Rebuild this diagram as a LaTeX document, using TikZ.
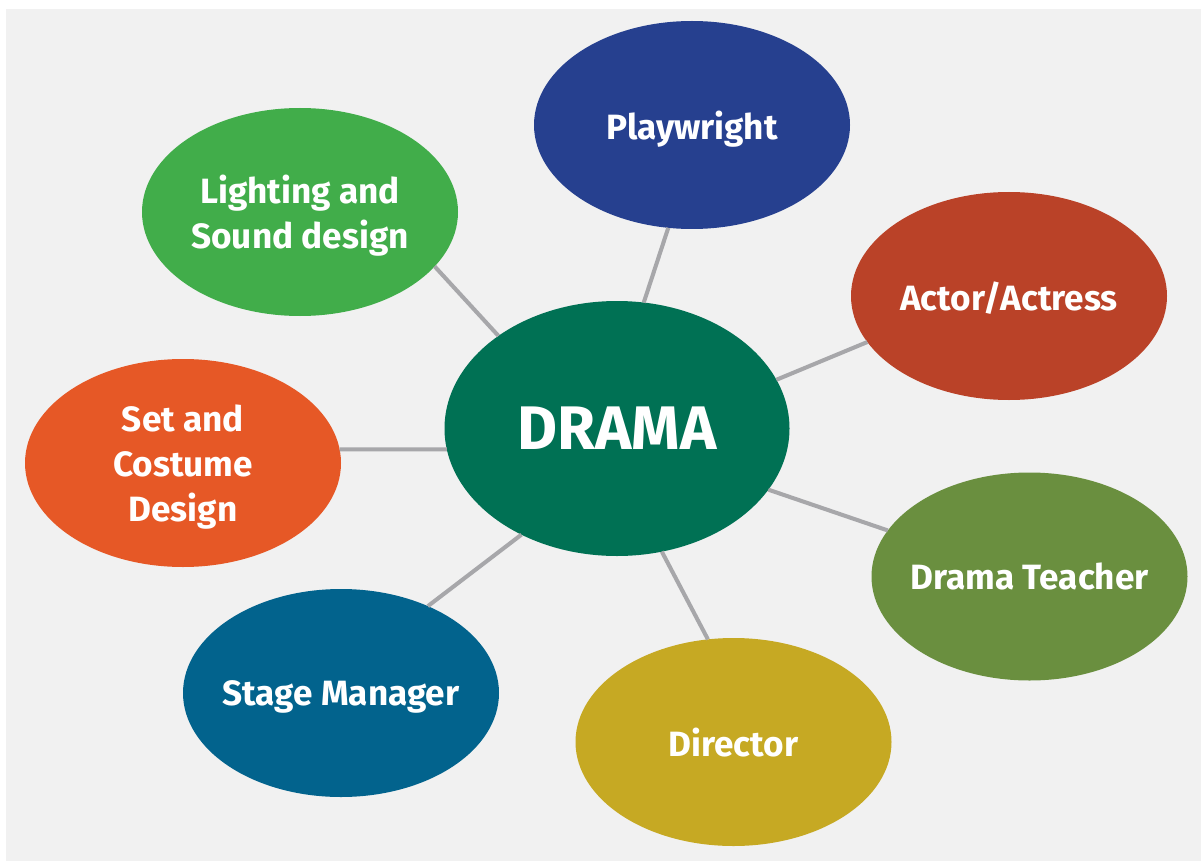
\documentclass[tikz,border=0pt]{standalone}
\usepackage{fontspec}
\setmainfont{Fira Sans}
\usetikzlibrary{shapes.geometric}

\definecolor{bggray}{HTML}{F1F1F1}
\definecolor{linkgray}{HTML}{A7A7AA}
\definecolor{dramagreen}{HTML}{007154}
\definecolor{playblue}{HTML}{26408F}
\definecolor{actorred}{HTML}{BA4228}
\definecolor{teachergreen}{HTML}{6A8F3F}
\definecolor{directorgold}{HTML}{C6A923}
\definecolor{stageblue}{HTML}{02638D}
\definecolor{setorange}{HTML}{E65826}
\definecolor{lightgreen}{HTML}{41AD4A}

\begin{document}
\begin{tikzpicture}[
        role/.style={ellipse, minimum width=6.32cm, minimum height=4.16cm, inner xsep=-0.7cm, inner ysep=0pt,
            outer sep=0pt, text depth=0pt, text=white, align=center, font=\fontsize{20}{25.5}\selectfont\bfseries},
        link/.style={draw=linkgray, line width=2.3pt}
    ]
        \fill[white] (0, 0) rectangle (24.02, 17.22);
        \fill[bggray] (0.12, 0) rectangle (24.02, 17.04);

        \node[role, fill=dramagreen, minimum width=6.9cm, minimum height=5.1cm,
            font=\fontsize{35}{40}\selectfont\bfseries] (drama) at (12.34, 8.65) {DRAMA};
        \node[role, fill=playblue] (play) at (13.84, 14.72) {Playwright};
        \node[role, fill=actorred] (actor) at (20.18, 11.30) {Actor/Actress};
        \node[role, fill=teachergreen] (teacher) at (20.59, 5.69) {Drama Teacher};
        \node[role, fill=directorgold] (director) at (14.67, 2.38) {Director};
        \node[role, fill=stageblue] (stage) at (6.82, 3.36) {Stage Manager};
        \node[role, fill=setorange] (set) at (3.66, 7.96) {Set and\\Costume\\Design};
        \node[role, fill=lightgreen] (light) at (6.0, 12.98) {Lighting and\\Sound design};

        \draw[link] (drama.78) -- (play.257);
        \draw[link] (drama.17.6) -- (actor.198);
        \draw[link] (drama.338.7) -- (teacher.162);
        \draw[link] (drama.290) -- (director.104.6);
        \draw[link] (drama.228.6) -- (stage.45);
        \draw[link] (drama.187) -- (set.5);
        \draw[link] (drama.142) -- (light.338);
    \end{tikzpicture}
\end{document}
